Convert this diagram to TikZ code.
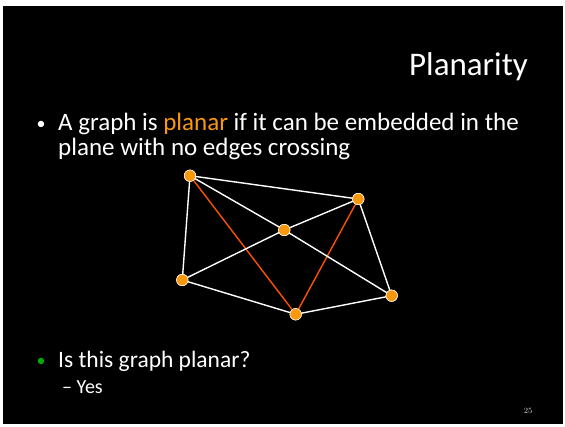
\documentclass[tikz,border=0pt]{standalone}
\usepackage{fontspec}
\setmainfont{Carlito}
\definecolor{dotor}{RGB}{250,152,12}
\definecolor{redor}{RGB}{255,80,0}
\definecolor{bulgreen}{RGB}{0,170,0}
\begin{document}
\begin{tikzpicture}[x=1pt,y=-1pt,
  vtx/.style={circle,fill=dotor,draw=white,line width=0.5pt,inner sep=0pt,minimum size=11.5pt},
  edg/.style={white,line width=1.4pt},
  redg/.style={redor,line width=1.4pt},
  txt/.style={text=white,anchor=base west,inner sep=0pt,font=\fontsize{25}{29}\selectfont},
  bul/.style={text=white,anchor=base,inner sep=0pt,font=\fontsize{18}{21}\selectfont}]
\fill[white] (0,0) rectangle (565,426);
\fill[black] (3,6) rectangle (563,424);
\node[anchor=base east,text=white,inner sep=0pt,font=\fontsize{33}{38}\selectfont] (title) at (528,75) {Planarity};
\node[bul] (b1) at (41,129) {\textbullet};
\node[txt] (l1) at (58,130) {A graph is \textcolor{dotor}{planar} if it can be embedded in the};
\node[txt] (l2) at (58,155) {plane with no edges crossing};
\node[bul,text=bulgreen] (b2) at (41,366) {\textbullet};
\node[txt,font=\fontsize{23.5}{28}\selectfont] (l3) at (58,367) {Is this graph planar?};
\node[txt,font=\fontsize{20}{24}\selectfont] (l4) at (62,393) {– Yes};
\node[anchor=base,text=white!85!black,inner sep=0pt,font=\fontfamily{lmr}\fontsize{8}{9}\selectfont] (pg) at (528,413) {25};
\node[vtx] (A) at (190,175.7) {};
\node[vtx] (B) at (358.3,199) {};
\node[vtx] (C) at (284.3,230) {};
\node[vtx] (D) at (182.3,280) {};
\node[vtx] (E) at (295.7,314.3) {};
\node[vtx] (F) at (391.7,295.7) {};
\draw[redg] (A.center) -- (E.center);
\draw[redg] (B.center) -- (E.center);
\draw[edg] (A.center) -- (B.center);
\draw[edg] (A.center) -- (C.center);
\draw[edg] (A.center) -- (D.center);
\draw[edg] (B.center) -- (C.center);
\draw[edg] (B.center) -- (F.center);
\draw[edg] (C.center) -- (D.center);
\draw[edg] (C.center) -- (F.center);
\draw[edg] (D.center) -- (E.center);
\draw[edg] (E.center) -- (F.center);
\foreach \v/\p in {A/{190,175.7},B/{358.3,199},C/{284.3,230},D/{182.3,280},E/{295.7,314.3},F/{391.7,295.7}}
  \node[vtx] at (\p) {};
\end{tikzpicture}
\end{document}
